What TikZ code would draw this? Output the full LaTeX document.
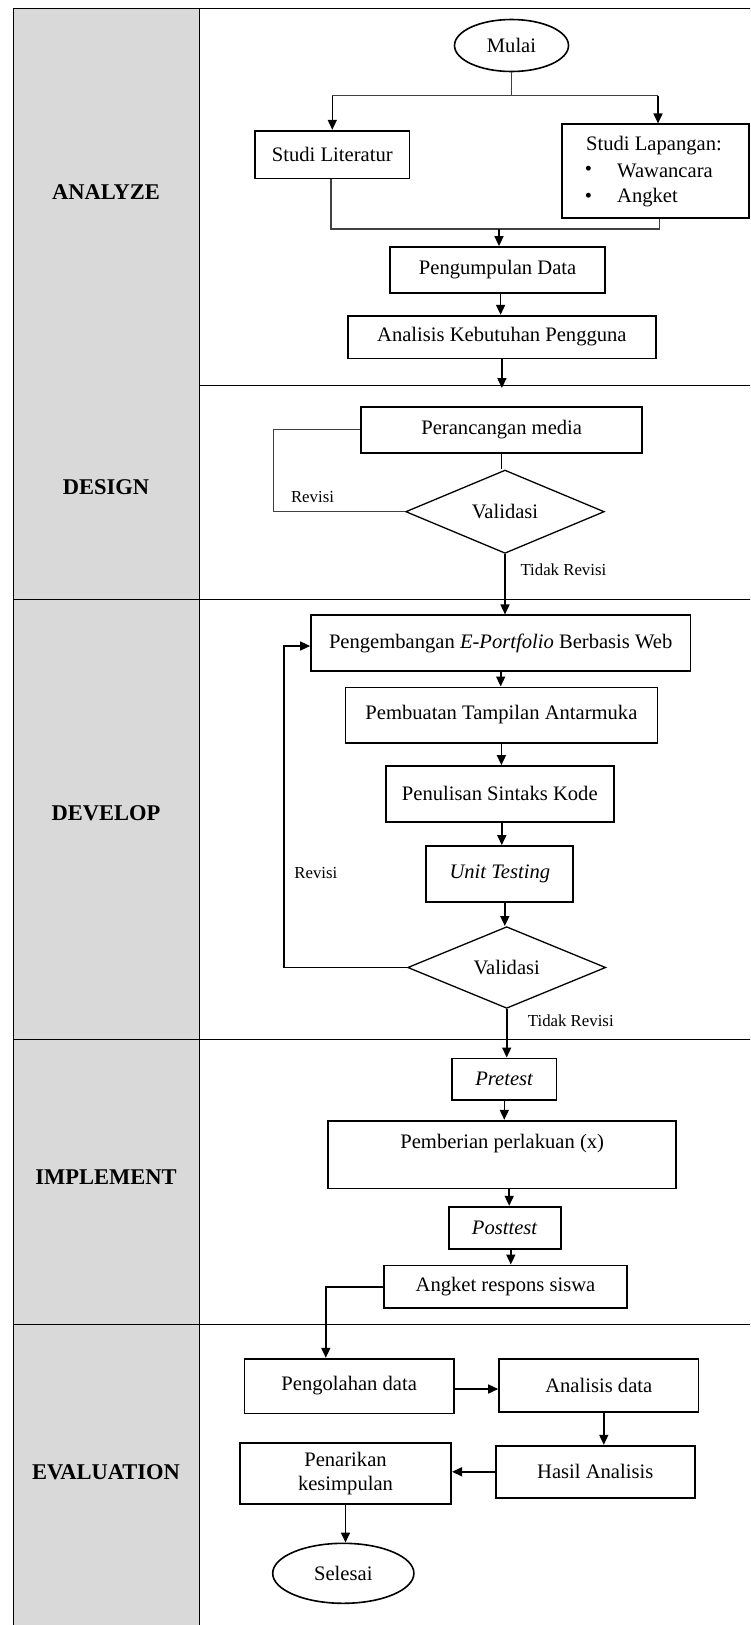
\documentclass[tikz,border=0pt]{standalone}
\usepackage{fontspec}
\setmainfont{Liberation Serif}
\usetikzlibrary{shapes.geometric,arrows.meta}
\begin{document}
\begin{tikzpicture}[x=1pt,y=-1pt,
  body/.style={font=\fontsize{20.6}{24.3}\selectfont},
  small/.style={font=\fontsize{16.8}{20}\selectfont},
  phase/.style={font=\fontsize{22.5}{27}\selectfont\bfseries},
  box/.style={draw, line width=1.7pt, rectangle, inner sep=0pt, body, align=center},
  term/.style={draw, line width=1.6pt, ellipse, inner sep=0pt, body},
  dec/.style={draw, line width=1.3pt, diamond, inner sep=0pt, body},
  arr/.style={line width=1.6pt, -{Triangle[length=10pt,width=9pt]}},
  conn/.style={line width=1.3pt},
  thinconn/.style={line width=1.1pt, draw=black!75},
  gridline/.style={line width=1.4pt},
  txt/.style={inner sep=0pt}]
\useasboundingbox (0,0) rectangle (750,1625);
% ---------- table ----------
\begin{scope}
\clip (0,0) rectangle (750,1625);
\fill[fill={rgb,255:red,217;green,217;blue,217}] (13.3,8.3) rectangle (199.3,1640);
\draw[gridline] (13.3,8.3) -- (760,8.3);
\draw[gridline] (13.3,8.3) -- (13.3,1640);
\draw[gridline] (199.3,8.3) -- (199.3,1640);
\draw[gridline] (199.3,385.7) -- (760,385.7);
\draw[gridline] (13.3,599.3) -- (760,599.3);
\draw[gridline] (13.3,1039.5) -- (760,1039.5);
\draw[gridline] (13.3,1324.3) -- (760,1324.3);
\end{scope}
% ---------- phase labels ----------
\node[phase] (pA) at (106,191.7) {ANALYZE};
\node[phase] (pD) at (106,486.7) {DESIGN};
\node[phase] (pV) at (106,813.3) {DEVELOP};
\node[phase] (pI) at (106,1176.7) {IMPLEMENT};
\node[phase] (pE) at (106,1472.3) {EVALUATION};
% ---------- ANALYZE ----------
\node[term, minimum width=114pt, minimum height=52pt] (mulai) at (511.5,45.5) {Mulai};
\node[box, minimum width=154.6pt, minimum height=47.7pt] (lit) at (332.3,154.5) {Studi Literatur};
\node[box, minimum width=186.6pt, minimum height=94pt] (lap) at (655.5,171.3) {};
\node[txt, body, anchor=west] (lapT) at (586,145.7) {Studi Lapangan:};
\node[txt, body] (b1) at (588.5,170.7) {\textbullet};
\node[txt, body, anchor=west] (l1) at (617,170.7) {Wawancara};
\node[txt, body] (b2) at (588.5,197.7) {\textbullet};
\node[txt, body, anchor=west] (l2) at (617,197.7) {Angket};
\node[box, minimum width=215pt, minimum height=45.7pt] (kumpul) at (497.6,269.8) {Pengumpulan Data};
\node[box, minimum width=308pt, minimum height=42.7pt] (butuh) at (501.9,337) {Analisis Kebutuhan Pengguna};
\coordinate (split) at (511.5,95.5);
\coordinate (splitL) at (332.3,95.5);
\coordinate (splitR) at (658,95.5);
\coordinate (mL) at (331,229);
\coordinate (mR) at (659.3,229);
\coordinate (mM) at (499,229);
\coordinate (a2d) at (501.9,388);
\draw[thinconn] (mulai.south) -- (split);
\draw[thinconn] (splitL) -- (splitR);
\draw[arr] (splitL) -- (lit.north);
\draw[arr] (splitR) -- (splitR |- lap.north);
\draw[thinconn] (lit.south -| mL) -- (mL) -- (mR) -- (mR |- lap.south);
\draw[arr] (mM) -- (mM |- kumpul.north);
\draw[arr] ([xshift=3pt]kumpul.south) -- ([xshift=3pt]kumpul.south |- butuh.north);
\draw[arr] (butuh.south) -- (a2d);
% ---------- DESIGN ----------
\node[box, minimum width=281pt, minimum height=46pt] (ranc) at (501.7,429.7) {Perancangan media};
\node[dec, minimum width=198.6pt, minimum height=83.3pt] (val1) at (505,511.7) {Validasi};
\coordinate (r1) at (273.7,429.7);
\draw[conn] (ranc.south) -- (ranc.south |- val1.north);
\draw[thinconn] (val1.west) -- (val1.west -| r1) -- (r1) -- (ranc.west);
\node[txt, small] (rev1) at (312.5,496.7) {Revisi};
\node[txt, small] (tr1) at (563.4,569.3) {Tidak Revisi};
% ---------- DEVELOP ----------
\node[box, minimum width=379.4pt, minimum height=56pt] (dev1) at (500.7,643.3) {Pengembangan \textit{E-Portfolio} Berbasis Web};
\node[box, minimum width=312pt, minimum height=55.3pt] (dev2) at (501.4,715) {Pembuatan Tampilan Antarmuka};
\node[box, minimum width=228.2pt, minimum height=55.7pt] (dev3) at (499.8,793.8) {Penulisan Sintaks Kode};
\node[box, minimum width=147pt, minimum height=55.7pt] (dev4) at (499.8,873.8) {\textit{Unit Testing}};
\node[dec, minimum width=198pt, minimum height=81.7pt] (val2) at (506.7,967.5) {Validasi};
\draw[arr] (val1.south) -- (val1.south |- dev1.north);
\draw[arr] (dev1.south) -- (dev1.south |- dev2.north);
\draw[arr] (dev2.south) -- (dev2.south |- dev3.north);
\draw[arr] ([xshift=2pt]dev3.south) -- ([xshift=2pt]dev3.south |- dev4.north);
\draw[arr] ([xshift=5pt]dev4.south) -- ([xshift=5pt]dev4.south |- val2.north);
\coordinate (r2) at (284.2,646);
\draw[arr] (val2.west) -- (val2.west -| r2) -- (r2) -- (r2 -| dev1.west);
\node[txt, small] (rev2) at (315.8,873.3) {Revisi};
\node[txt, small] (tr2) at (570.8,1020.7) {Tidak Revisi};
% ---------- IMPLEMENT ----------
\node[box, minimum width=104.3pt, minimum height=41.7pt] (pre) at (504.3,1079.2) {\textit{Pretest}};
\node[box, minimum width=347.9pt, text height=28.3pt, text depth=39.4pt] (treat) at (502.2,1154.5) {Pemberian perlakuan (x)};
\node[box, minimum width=112pt, minimum height=42.3pt] (post) at (504.8,1227.8) {\textit{Posttest}};
\node[box, minimum width=243.6pt, minimum height=42.7pt] (angket) at (505.5,1286.7) {Angket respons siswa};
\draw[arr] (val2.south) -- (val2.south |- pre.north);
\draw[arr] (pre.south) -- (pre.south |- treat.north);
\draw[arr] ([xshift=7pt]treat.south) -- ([xshift=7pt]treat.south |- post.north);
\draw[arr] ([xshift=6pt]post.south) -- ([xshift=6pt]post.south |- angket.north);
% ---------- EVALUATION ----------
\node[box, minimum width=209.5pt, minimum height=54.7pt] (olah) at (349.2,1386) {Pengolahan data};
\node[box, minimum width=199.5pt, minimum height=53.3pt] (anal) at (598.8,1385.3) {Analisis data};
\node[box, minimum width=199pt, minimum height=52.3pt] (hasil) at (595.2,1471.8) {Hasil Analisis};
\node[box, minimum width=211.5pt, minimum height=61pt] (tarik) at (345.5,1473.8) {Penarikan\\kesimpulan};
\node[term, minimum width=141.2pt, minimum height=60pt] (selesai) at (343.3,1573.3) {Selesai};
\coordinate (ae) at (325.8,1287.7);
\draw[arr] (angket.west) -- (angket.west -| ae) -- (ae |- olah.north);
\draw[arr] ([yshift=-3pt]olah.east) -- ([yshift=-3pt]olah.east -| anal.west);
\draw[arr] ([xshift=5pt]anal.south) -- ([xshift=5pt]anal.south |- hasil.north);
\draw[arr] (hasil.west) -- (hasil.west -| tarik.east);
\draw[arr] (tarik.south) -- (tarik.south |- selesai.north);
\end{tikzpicture}
\end{document}
